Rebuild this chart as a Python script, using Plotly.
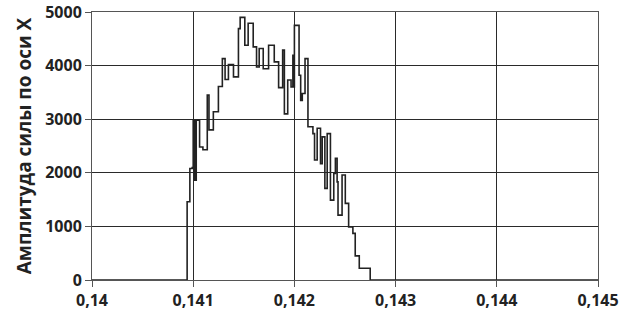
import plotly.graph_objects as go

x_vals = [0.1400, 0.14094, 0.140967, 0.140990, 0.141000, 0.141014, 0.141030, 0.141063, 0.141096,
          0.141139, 0.141156, 0.141199, 0.141249, 0.141288, 0.141315, 0.141348, 0.141398,
          0.141447, 0.141464, 0.141510, 0.141543, 0.141593, 0.141626, 0.141652, 0.141692,
          0.141745, 0.141801, 0.141844, 0.141884, 0.141901, 0.141934, 0.141967, 0.141985,
          0.141993, 0.142000, 0.142046, 0.142062, 0.142078, 0.142105, 0.142134, 0.142183,
          0.142199, 0.142225, 0.142258, 0.142275, 0.142301, 0.142324, 0.142356, 0.142389,
          0.142405, 0.142422, 0.142431, 0.142471, 0.142503, 0.142536, 0.142578, 0.142601,
          0.142641, 0.142749, 0.1450]
y_vals = [0, 1460, 2080, 2100, 2980, 1860, 2980, 2480, 2430,
          3450, 2800, 3140, 3610, 4130, 3740, 4020, 3790,
          4690, 4900, 4380, 4790, 4350, 3975, 4320, 3940,
          4380, 4070, 3590, 4290, 3100, 3730, 3600, 4190,
          3600, 4750, 3820, 3350, 3480, 4130, 2860, 2730,
          2240, 2830, 2170, 2670, 1710, 2730, 1490, 1990,
          2270, 1830, 1210, 1960, 1430, 990, 870, 450,
          220, 0, 0]

x_ticks = [0.140, 0.141, 0.142, 0.143, 0.144, 0.145]
x_tick_text = ["0,14", "0,141", "0,142", "0,143", "0,144", "0,145"]
y_ticks = [0, 1000, 2000, 3000, 4000, 5000]
y_title = "Амплитуда силы по оси X"

fig = go.Figure()
fig.add_trace(go.Scatter(x=x_vals, y=y_vals, mode="lines", line_shape="hv",
                         line=dict(color="#222222", width=1.6), showlegend=False))

tfont = dict(family="Open Sans", size=16, weight="bold", color="#222222")
fig.update_layout(
    width=624, height=320,
    margin=dict(l=92, r=26, t=12, b=40),
    paper_bgcolor="white", plot_bgcolor="white",
    xaxis=dict(range=[0.14, 0.145], tickvals=x_ticks, ticktext=x_tick_text,
               showgrid=True, gridcolor="#2a2a2a", gridwidth=1.2,
               showline=True, linecolor="#555555", linewidth=1, mirror=True,
               ticks="outside", ticklen=6, tickcolor="#555555",
               tickfont=tfont, automargin=False, zeroline=False),
    yaxis=dict(range=[0, 5000], tickvals=y_ticks,
               showgrid=True, gridcolor="#2a2a2a", gridwidth=1.2,
               showline=True, linecolor="#555555", linewidth=1, mirror=True,
               ticks="outside", ticklen=6, tickcolor="#555555",
               tickfont=tfont, automargin=False,
               title=dict(text=y_title, font=dict(family="Open Sans", size=19, weight="bold", color="#222222"), standoff=8),
               zeroline=False),
)
fig.write_html("out.html", config={"displayModeBar": False},
               post_script="document.body.style.margin='0px';")
